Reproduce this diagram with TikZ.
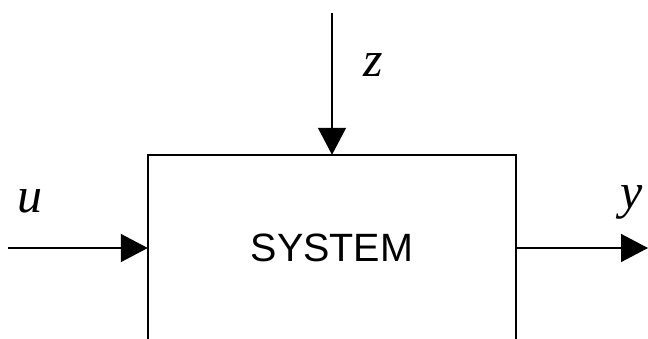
\documentclass[tikz,border=0pt]{standalone}
\usepackage{fontspec}
\setmainfont{Liberation Serif}
\newfontfamily\labelsans{Liberation Sans}
\usetikzlibrary{arrows.meta}
\tikzset{
  conn/.style={line width=1.5pt, -{Triangle[width=28pt,length=27pt]}},
  boxline/.style={line width=1.5pt},
  varlabel/.style={inner sep=0pt, font=\fontsize{50}{60}\selectfont\itshape},
  sysbox/.style={minimum width=368pt, minimum height=186pt, inner sep=0pt, font=\labelsans\fontsize{39.5}{46}\selectfont}
}
\begin{document}
\begin{tikzpicture}[x=1pt,y=-1pt]
\useasboundingbox (0,0) rectangle (648,338);
\clip (0,0) rectangle (648,338);
\node[sysbox] (sys) at (332,248) {SYSTEM};
\draw[boxline] (sys.south west) -- (sys.north west) -- (sys.north east) -- (sys.south east);
\coordinate (zin) at (332,13);
\coordinate (uin) at (8,248);
\coordinate (yout) at (648,248);
\draw[conn] (zin) -- (sys.north);
\draw[conn] (uin) -- (sys.west);
\draw[conn] (sys.east) -- (yout);
\node[varlabel] (zl) at (373,65) {z};
\node[varlabel] (ul) at (30,201) {u};
\node[varlabel] (yl) at (632,202) {y};
\end{tikzpicture}
\end{document}
